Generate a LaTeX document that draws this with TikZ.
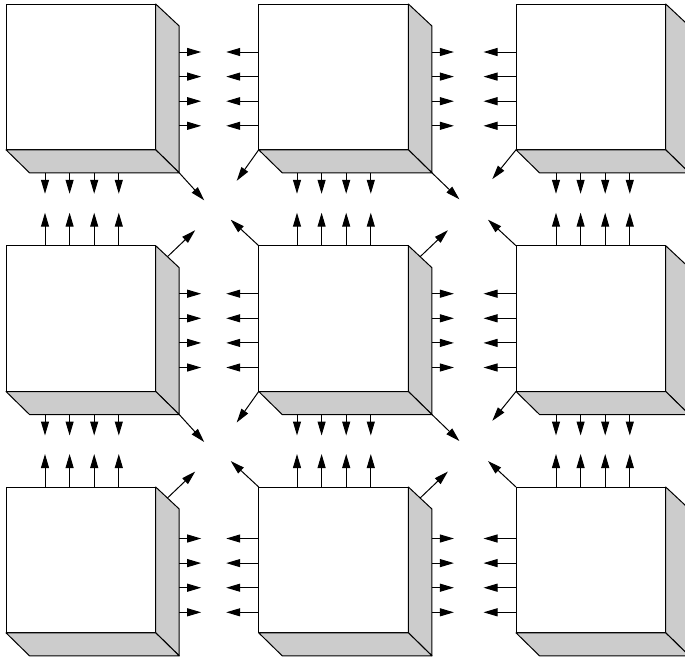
\documentclass[tikz,border=0pt]{standalone}
\definecolor{sideGray}{RGB}{204, 204, 204}
\usepackage{tikz}
\usetikzlibrary{arrows.meta, calc}
\tikzset{
    front/.style={draw, fill=white, line width=1pt, anchor=north west, inner sep=0pt, outer sep=0pt,
        minimum width=149.7pt, minimum height=145.8pt},
    face/.style={draw, fill=sideGray, line width=1pt, line join=round},
    sig/.style={-{Triangle[length=14pt, width=8pt]}, line width=1pt}
}

\begin{document}
\begin{tikzpicture}[x=1pt, y=-1pt]
    \useasboundingbox (0,0) rectangle (685,662);

    % Blocks with their grey side and bottom faces
    \foreach \c/\x in {1/6, 2/258.7, 3/516} {
        \foreach \r/\y in {1/4, 2/245.7, 3/487} {
            \node[front] (block\c\r) at (\x,\y) {};
            \coordinate (outer\c\r) at ($(block\c\r.south east)+(23.5,23)$);
            \coordinate (rim\c\r) at ($(block\c\r.north east)+(23.5,22)$);
            \draw[face] (block\c\r.north east) -- (rim\c\r) -- (outer\c\r)
                -- (block\c\r.south east) -- cycle;
            \draw[face] (block\c\r.south west) -- ($(block\c\r.south west)+(23.5,23)$)
                -- (outer\c\r) -- (block\c\r.south east) -- cycle;
        }
    }

    % Horizontal signals
    \foreach \r/\d in {1/48, 2/48, 3/51.5} {
        \foreach \k in {0,1,2,3} {
            \foreach \c in {1,2,3} {
                \draw[sig] ($(block\c\r.north east)+(23.5,{\d+\k*24.6})$) -- ++(22,0);
            }
            \foreach \c in {2,3} {
                \draw[sig] ($(block\c\r.north west)+(0,{\d+\k*24.6})$) -- ++(-32.5,0);
            }
        }
    }

    % Vertical signals
    \foreach \c/\d in {1/39, 2/38.3, 3/40} {
        \foreach \k in {0,1,2,3} {
            \foreach \r in {1,2} {
                \draw[sig] ($(block\c\r.south west)+({\d+\k*24.6},23)$) -- ++(0,21);
            }
            \foreach \r in {2,3} {
                \draw[sig] ($(block\c\r.north west)+({\d+\k*24.6},0)$) -- ++(0,-33);
            }
        }
    }

    % Diagonal signals, lower right
    \foreach \n/\ex/\ey in {11/25/27.5, 21/27.5/26.5, 12/25/27.5, 22/27.5/26.5} {
        \draw[sig] (outer\n) -- ++(\ex,\ey);
    }

    % Diagonal signals, lower left
    \foreach \n/\ex/\ey in {21/-22/31, 22/-22/31, 31/-23.7/29.3, 32/-23.7/29.3} {
        \draw[sig] (block\n.south west) -- ++(\ex,\ey);
    }

    % Diagonal signals, upper right
    \foreach \n in {12, 22, 13, 23} {
        \draw[sig] ($(block\n.north east)!0.5!(rim\n)$) -- ($(block\n.north east)+(39.5,-15.5)$);
    }

    % Diagonal signals, upper left
    \foreach \n in {22, 32, 23, 33} {
        \draw[sig] (block\n.north west) -- ++(-28,-26);
    }
\end{tikzpicture}
\end{document}
